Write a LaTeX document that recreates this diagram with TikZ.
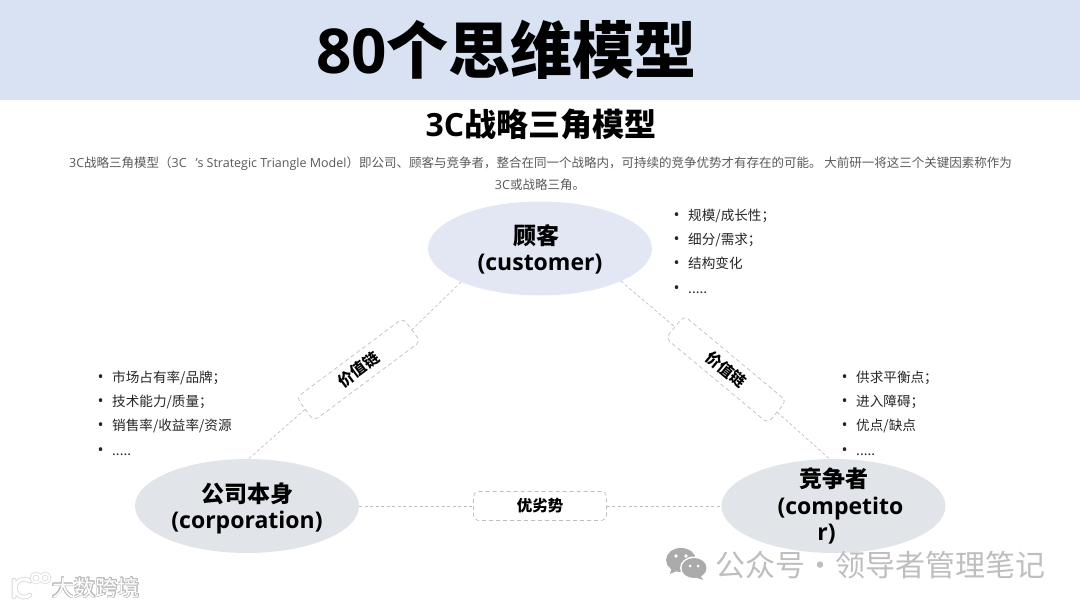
\documentclass[tikz,border=0pt]{standalone}
\usepackage{fontspec}
\usepackage{contour}
\usetikzlibrary{shapes.geometric}
\setmainfont{Open Sans}
\newfontfamily\cjk{Noto Sans CJK SC}
\newcommand{\dotitem}{{\rmfamily\fontsize{16}{16}\selectfont •}\hspace{8.5pt}}
\contourlength{0.5pt}
\contournumber{24}
\definecolor{bandblue}{HTML}{D9E2F3}
\definecolor{custfill}{HTML}{E2E7F3}
\definecolor{greyfill}{HTML}{E1E4E8}
\definecolor{dashgrey}{HTML}{BFBFBF}
\definecolor{bodygrey}{HTML}{595959}
\definecolor{wmgrey}{HTML}{BEBEBE}
\definecolor{iconbase}{HTML}{ABABAB}
\tikzset{
  x=1pt,y=-1pt,
  oval/.style={ellipse,minimum width=224pt,minimum height=94pt,inner sep=0pt,align=center,font=\bfseries\fontsize{23}{26}\selectfont},
  tag/.style={draw=dashgrey,dash pattern=on 4pt off 3pt,line width=0.7pt,rounded corners=5pt,fill=white,minimum width=133pt,minimum height=29pt,inner sep=0pt,font=\cjk\bfseries\fontsize{15.5}{15.5}\selectfont},
  link/.style={draw=dashgrey,dash pattern=on 3pt off 2.5pt,line width=0.7pt},
  facts/.style={anchor=north west,align=left,inner sep=0pt,text=black!85,font=\cjk\fontsize{13.6}{24.3}\selectfont},
  body/.style={text=bodygrey,inner sep=0pt,font=\fontsize{12.5}{14}\selectfont},
  wmtext/.style={text=wmgrey,inner sep=0pt,font=\cjk\fontsize{30}{30}\selectfont}
}
\begin{document}
\begin{tikzpicture}
\useasboundingbox (0,0) rectangle (1080,608);
\fill[bandblue] (0,0) rectangle (1080,99.5);
\node[inner sep=0pt,font=\bfseries\fontsize{62}{62}\selectfont] (title) at (506.5,50) {80{\cjk 个思维模型}};
\node[inner sep=0pt,font=\bfseries\fontsize{32}{32}\selectfont] (sub) at (541,124) {3C{\cjk 战略三角模型}};
\node[body] (l1) at (540.5,164) {3C{\cjk 战略三角模型（}3C\hspace{9pt}’s Strategic Triangle Model{\cjk ）即公司、顾客与竞争者，整合在同一个战略内，可持续的竞争优势才有存在的可能。 大前研一将这三个关键因素称作为}};
\node[body] (l2) at (540,184.5) {3C{\cjk 或战略三角。}};

\node[oval,fill=custfill] (cust) at (540,248.5) {\rule{0pt}{22.5pt}{\cjk 顾客}\kern8pt\\(customer)};
\node[oval,fill=greyfill] (corp) at (247,506) {\rule{0pt}{25pt}{\cjk 公司本身}\\(corporation)};
\node[oval,fill=greyfill,inner ysep=-18pt] (comp) at (833.5,506) {{\cjk 竞争者}\\[1pt]\hspace{14pt}(competito\\\hspace{-14pt}r)};

\node[tag,rotate=36.7] (vl) at (358.5,369.5) {价值链};
\node[tag,rotate=-39.8] (vr) at (726,369.5) {价值链};
\node[tag] (vb) at (540,506) {优劣势};

\draw[link] (cust.203.6) -- (vl.east);
\draw[link] (vl.west) -- (corp.88);
\draw[link] (cust.-22.7) -- (vr.west);
\draw[link] (vr.east) -- (comp.95);
\draw[link] (corp.east) -- (vb.west);
\draw[link] (vb.east) -- (comp.west);

\node[facts] (fc) at (673.5,208.5) {\dotitem 规模/成长性；\\\dotitem 细分/需求；\\\dotitem 结构变化\\\dotitem .....};
\node[facts] (fl) at (97.5,370.5) {\dotitem 市场占有率/品牌；\\\dotitem 技术能力/质量；\\\dotitem 销售率/收益率/资源\\\dotitem .....};
\node[facts] (fr) at (841.5,370.5) {\dotitem 供求平衡点；\\\dotitem 进入障碍；\\\dotitem 优点/缺点\\\dotitem .....};

% WeChat watermark
\fill[iconbase] (681,560) ellipse (15 and 12);
\fill[iconbase] (672,567) -- (670,574) -- (679,570) -- cycle;
\fill[white] (694,568) ellipse (14 and 11.5);
\fill[iconbase] (694,568) ellipse (12.5 and 10);
\fill[iconbase] (700,575) -- (703,580) -- (695,577) -- cycle;
\fill[white] (676,556) circle (1.8) (686,556) circle (1.8) (690,566) circle (1.5) (698,566) circle (1.5);
\node[wmtext] (wm) at (880,565) {公众号·领导者管理笔记};

% Logo watermark
\draw[line width=4.6pt,line cap=round,dashgrey!60] (14,580) -- (14,597) (30,595) arc (50:310:9);
\draw[line width=3pt,line cap=round,white] (14,580) -- (14,597) (30,595) arc (50:310:9);
\draw[line width=3.4pt,dashgrey!60] (36,578) circle (4.5) (45,578) circle (4.5);
\draw[line width=2pt,white] (36,578) circle (4.5) (45,578) circle (4.5);
\node[inner sep=0pt,text=white,font=\cjk\fontsize{22}{22}\selectfont] (logo) at (96,588) {\contour{wmgrey}{大数跨境}};
\end{tikzpicture}
\end{document}
